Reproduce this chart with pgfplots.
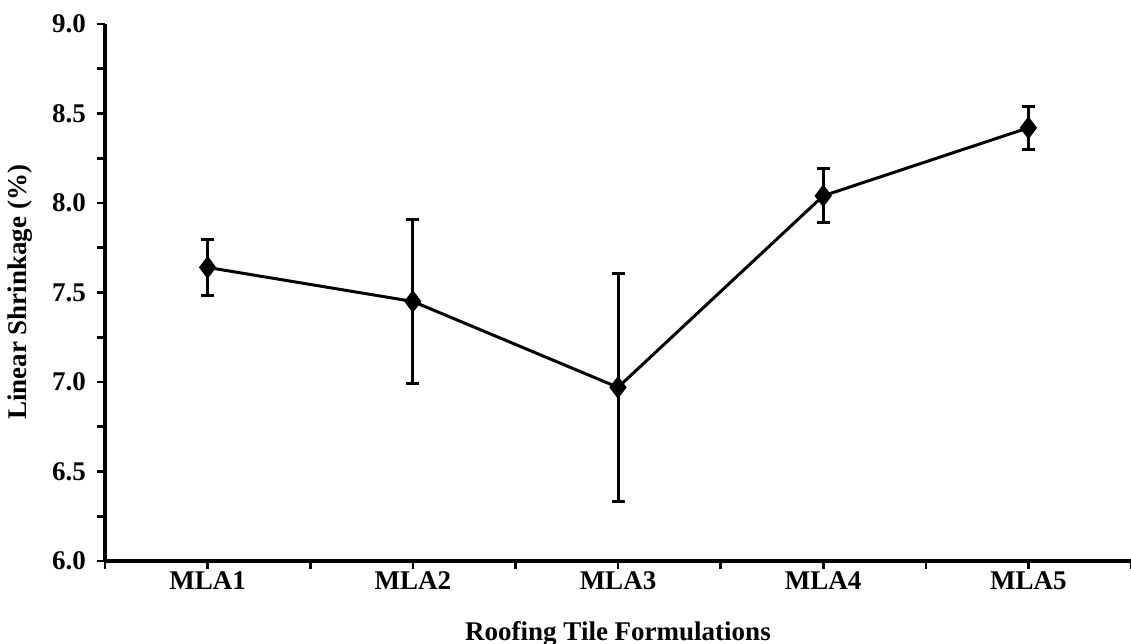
\documentclass[border=0pt]{standalone}
\usepackage{fontspec}
\setmainfont{Liberation Serif}
\usepackage{pgfplots}
\pgfplotsset{compat=1.18}
\usetikzlibrary{calc}

\begin{document}
\begin{tikzpicture}
\begin{axis}[
    name=ax,
    scale only axis,
    width=513pt, height=268.5pt,
    xmin=0.5, xmax=5.5,
    ymin=6, ymax=9,
    axis x line*=bottom,
    axis y line*=left,
    axis line style={line width=1.6pt, black},
    tick align=outside,
    major tick length=4pt,
    minor tick length=4pt,
    every tick/.style={line width=1.3pt, black},
    xtick={1,2,3,4,5},
    xticklabels={MLA1,MLA2,MLA3,MLA4,MLA5},
    minor xtick={0.5,1.5,2.5,3.5,4.5,5.5},
    ytick={6,6.5,7,7.5,8,8.5,9},
    minor ytick={6.25,6.75,7.25,7.75,8.25,8.75},
    y tick label style={/pgf/number format/fixed, /pgf/number format/fixed zerofill,
        /pgf/number format/precision=1, /pgf/number format/assume math mode=true},
    tick label style={font=\fontsize{13.5}{16}\selectfont\bfseries},
    xticklabel style={yshift=2pt},
    yticklabel style={xshift=-2pt},
    label style={font=\fontsize{13.5}{16}\selectfont\bfseries},
    xlabel={Roofing Tile Formulations},
    xlabel style={at={(rel axis cs:0.5,0)}, anchor=north, yshift=-26.5pt},
    ylabel={Linear Shrinkage (\%)},
    ylabel style={at={(rel axis cs:0,0.5)}, anchor=center, rotate=0, yshift=42.5pt},
    clip=false,
]
\addplot[black, line width=1.5pt, mark=diamond*, mark size=4.5pt,
    error bars/.cd, y dir=both, y explicit,
    error bar style={line width=1.5pt, black},
    error mark options={rotate=90, mark size=3.25pt, line width=1.5pt, black}]
coordinates {
    (1, 7.64) +- (0, 0.155)
    (2, 7.45) +- (0, 0.46)
    (3, 6.97) +- (0, 0.635)
    (4, 8.04) +- (0, 0.15)
    (5, 8.42) +- (0, 0.12)
};
\end{axis}
\pgfresetboundingbox
\useasboundingbox ($(ax.south west)+(-52.5pt,-41.5pt)$) rectangle ($(ax.north east)+(0pt,12pt)$);
\end{tikzpicture}
\end{document}
